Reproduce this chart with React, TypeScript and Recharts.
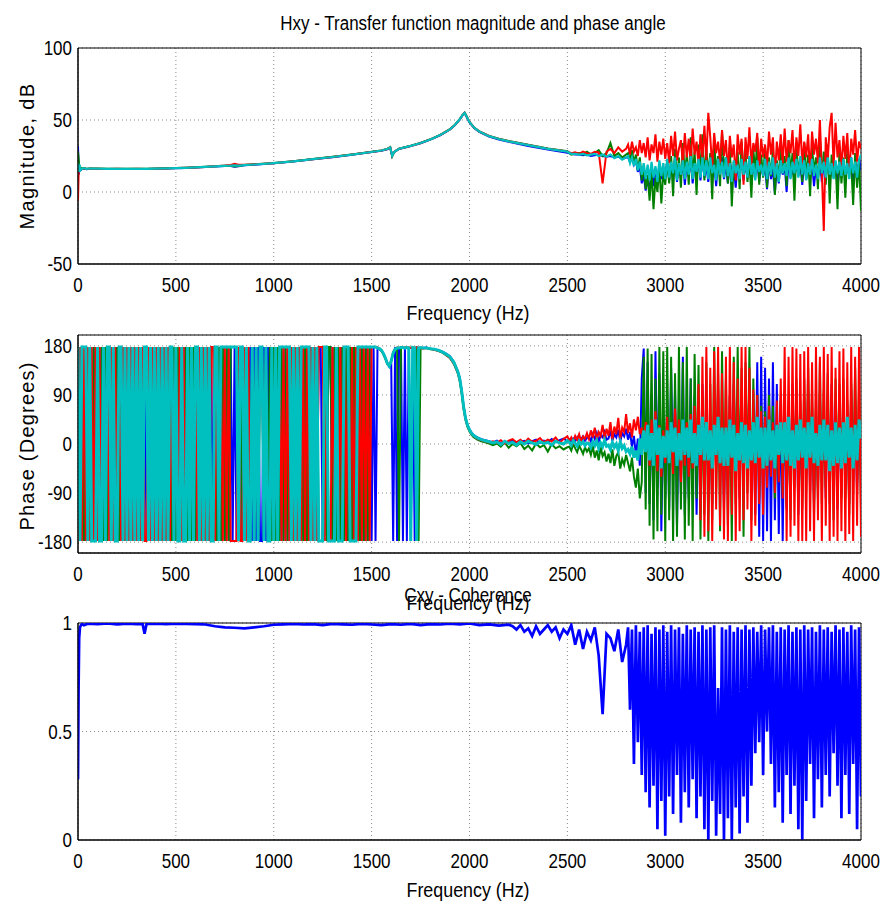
import React from "react";
import { LineChart, Line, XAxis, YAxis, CartesianGrid, ReferenceArea } from "recharts";

// sampling grid helper (frequencies only)
const steps = (from: number, to: number, by: number) => {
  const out: number[] = [];
  for (let f = from; f <= to + 1e-9; f += by) out.push(f);
  return out;
};

const freqTicks = [0, 500, 1000, 1500, 2000, 2500, 3000, 3500, 4000];
const magTicks = [-50, 0, 50, 100];
const phaseTicks = [-180, -90, 0, 90, 180];
const cohTicks = [0, 0.5, 1];

// ---------- magnitude (dB) ----------
const magFreqLow = [
  0, 4, 8, 12, 20, 30, 45, 60, 100, 150, 200, 250, 300, 350, 400, 450, 500, 550, 600, 650,
  700, 750, 780, 800, 820, 850, 900, 950, 1000, 1100, 1200, 1300, 1400, 1500, 1550, 1580, 1595, 1605, 1615, 1640,
  1700, 1750, 1800, 1850, 1900, 1925, 1950, 1965, 1975, 1985, 2000, 2025, 2050, 2100, 2150, 2200, 2300, 2400, 2500,
];
const magFreqMid = steps(2520, 2800, 20);
const magFreqHigh = steps(2810, 4000, 10);

const magBlueLow = [
  32, 12, 18, 15, 16, 16.3, 15.8, 16.2, 16, 15.9, 16, 15.9, 16, 15.9, 16.1, 16.3, 16.5, 16.7, 17, 17.3,
  17.7, 18, 18.1, 17.6, 17.9, 18.6, 19, 19.4, 19.9, 21.2, 22.7, 24.2, 25.9, 27.7, 28.7, 29.7, 30.8, 25.2, 27.7, 29.9,
  31.9, 33.9, 36.4, 39.4, 43.4, 46.4, 50.3, 53.3, 54.8, 52.3, 48.3, 44.3, 41.8, 38.5, 36.4, 34.8, 32, 29.5, 27.3,
];
const magGreenLow = [
  28, 22, 15, 17, 16.2, 16.6, 16.1, 16.4, 16.3, 16.1, 16.2, 16.1, 16.2, 16.1, 16.3, 16.5, 16.7, 16.9, 17.2, 17.5,
  17.9, 18.2, 18.3, 17.8, 18.1, 18.8, 19.2, 19.6, 20.1, 21.4, 22.9, 24.4, 26.1, 27.9, 28.9, 29.9, 31.2, 24.8, 27.9, 30.1,
  32.1, 34.1, 36.6, 39.6, 43.6, 46.6, 50.6, 53.6, 55.1, 52.6, 48.6, 44.6, 42.1, 39, 37, 35.4, 32.8, 30.3, 28.3,
];
const magRedLow = [
  -6, 18, 16, 16, 15.9, 16.4, 15.9, 16.2, 16.1, 16, 16.1, 16, 16.2, 16, 16.2, 16.4, 16.6, 16.9, 17.1, 17.4,
  17.9, 18.4, 18.8, 19.6, 19, 18.9, 19.2, 19.6, 20, 21.3, 22.8, 24.3, 26, 27.8, 28.8, 29.8, 31, 25, 27.8, 30,
  32, 34, 36.5, 39.5, 43.5, 46.5, 50.5, 53.5, 55, 52.5, 48.5, 44.5, 42, 38.9, 36.9, 35.3, 32.6, 30.1, 28.1,
];
const magCyanLow = [
  20, 14, 19, 15, 16.1, 16.5, 16, 16.3, 16.2, 16, 16.1, 16, 16.1, 16, 16.2, 16.4, 16.6, 16.8, 17.1, 17.4,
  17.8, 18.1, 18.3, 18.5, 18.3, 18.7, 19.1, 19.5, 20, 21.3, 22.8, 24.3, 26, 27.8, 28.8, 29.8, 31, 25, 27.8, 30,
  32, 34, 36.5, 39.5, 43.5, 46.5, 50.5, 53.5, 55, 52.5, 48.5, 44.5, 42, 38.8, 36.8, 35.2, 32.5, 30, 28,
];

const magBlueMid = [26.5, 26, 26, 25.5, 26, 25, 25.5, 26, 25, 24.5, 25, 24, 24.5, 23, 24];
const magGreenMid = [26, 26.5, 27, 26, 28, 26, 27, 29, 25, 27, 34, 25, 27, 24, 26];
const magRedMid = [27, 27.5, 26.5, 28, 27, 26.5, 28, 27.5, 6, 28, 30, 27, 31, 28, 30];
const magCyanMid = [26.5, 26.5, 26, 26.5, 25.5, 26, 26.5, 25, 26, 24.5, 26, 23.5, 25, 22.5, 24];

const magBlueHigh = [
  24, 21, 25, 19, 22, 14, 18, 6, 12, 1,
  8, 2, 14, 4, 16, 6, 20, 9, 17, 11,
  21, 8, 19, 12, 23, 7, 18, 10, 22, 5,
  20, 11, 24, 6, 19, 13, 22, 8, 25, 10,
  18, 7, 23, 12, 20, 4, 21, 14, 24, 9,
  19, 6, 22, 11, 18, 3, 20, 13, 23, 8,
  21, 10, 24, 5, 19, 12, 22, 7, 20, 11,
  18, 2, 21, 9, 16, -1, 20, 6, 23, 12,
  19, 0, 22, 10, 17, 8, 24, 11, 20, 5,
  23, 9, 19, 12, 21, 4, 18, 10, 22, 7,
  20, 11, 24, 6, 19, 13, 21, 3, 18, 10,
  22, 8, 19, 12, 24, 5, 20, 9, 23, 15,
];
const magGreenHigh = [
  27, 22, 29, 20, 26, 15, 24, 8, 18, 2,
  12, -6, 15, -12, 10, 0, 18, -8, 14, 5,
  22, 6, 25, -3, 30, 9, 24, 3, 34, 12,
  26, 5, 38, 10, 28, -2, 33, 14, 40, 8,
  30, 11, 27, -5, 36, 13, 25, 4, 42, 16,
  24, 6, 32, -10, 21, 9, 28, 2, 35, 14,
  27, 7, 23, -4, 30, 12, 38, 5, 26, 10,
  31, 3, 24, 11, 29, -2, 22, 8, 33, 13,
  25, 4, 36, 12, 27, -6, 30, 15, 23, 7,
  34, 9, 26, -3, 31, 14, 24, 2, 37, 11,
  28, 5, 33, -8, 26, 10, 21, -12, 30, 6,
  24, -4, 29, 12, 20, -9, 27, 3, 22, -13,
];
const magRedHigh = [
  33, 26, 35, 28, 31, 25, 36, 27, 34, 24,
  38, 22, 33, 27, 40, 21, 35, 26, 37, 23,
  34, 20, 39, 25, 42, 22, 30, 36, 19, 41,
  24, 37, 21, 44, 26, 35, 18, 40, 23, 46,
  22, 55, 38, 17, 41, 27, 35, 20, 43, 25,
  36, 12, 39, 24, 33, 8, 40, 26, 37, 5,
  38, 23, 45, 19, 34, 28, 41, 15, 37, 24,
  33, 18, 42, 26, 38, 10, 35, 22, 40, 20,
  44, 21, 36, 27, 43, 16, 38, 25, 47, 19,
  35, 24, 40, 12, 42, 26, 37, 20, 50, 14,
  -27, 38, 22, 45, 55, 18, 48, 24, 36, 15,
  39, 23, 41, 10, 37, 26, 43, 21, 35, 30,
];
const magCyanHigh = [
  25, 20, 24, 18, 23, 15, 21, 12, 20, 9,
  19, 8, 21, 10, 18, 7, 22, 11, 20, 9,
  23, 10, 21, 13, 24, 8, 20, 12, 22, 9,
  21, 12, 25, 9, 20, 14, 23, 10, 24, 11,
  22, 9, 24, 13, 19, 8, 23, 12, 21, 10,
  24, 11, 20, 7, 22, 13, 19, 9, 23, 12,
  21, 10, 25, 12, 20, 8, 22, 14, 19, 11,
  23, 9, 21, 12, 24, 10, 20, 7, 22, 13,
  20, 11, 24, 9, 21, 13, 23, 10, 25, 12,
  22, 8, 20, 12, 23, 11, 19, 9, 24, 13,
  21, 10, 24, 12, 20, 9, 22, 13, 21, 11,
  23, 12, 20, 9, 24, 13, 21, 10, 22, 26,
];

// ---------- phase (degrees) ----------
const U = 178;
const D = -178;
const phFreqWrap = steps(0, 1760, 10);
const phFreqTurn = [1780, 1800, 1820, 1840, 1860, 1880, 1900, 1920, 1940, 1950, 1960, 1970, 1980, 1990, 2000, 2010, 2020, 2040, 2060, 2080, 2100];
const phFreqFlat = steps(2120, 2500, 20);
const phFreqNoise = steps(2510, 4000, 10);

const phBlueWrap = [
  U, D, U, D, U, D, U, D, U, D,
  U, D, U, D, U, D, U, D, U, D,
  U, D, U, D, U, D, U, D, U, D,
  U, D, U, D, U, D, U, D, U, D,
  U, D, U, D, U, D, U, D, U, D,
  U, D, U, D, U, D, U, D, U, D,
  U, D, U, D, U, D, U, D, U, D,
  U, D, U, D, U, D, U, D, U, D,
  U, D, U, D, U, D, U, D, U, D,
  U, D, U, D, D, U, D, U, D, U,
  D, U, D, U, D, U, D, U, D, U,
  D, U, D, U, D, U, D, U, D, U,
  D, U, D, U, U, D, U, D, U, U,
  D, U, D, U, D, U, D, U, D, U,
  D, U, D, U, D, U, D, U, D, U,
  D, U, D, 176, 174, 171, 166, 158, 149, 142,
  150, D, U, D, 176, 177, D, U, D, U,
  D, U, D, 177, 176, 177, 176,
];
const phGreenWrap = [
  U, D, U, D, U, D, U, D, U, D,
  U, D, U, D, U, D, U, D, U, D,
  U, D, U, D, U, D, U, D, U, D,
  U, D, U, D, U, U, D, U, D, U,
  D, U, D, U, D, U, D, U, D, U,
  D, U, D, U, D, U, D, U, D, U,
  D, U, D, U, D, U, D, U, D, D,
  U, D, U, D, U, D, U, D, U, U,
  U, U, D, U, D, U, D, U, D, U,
  D, U, D, U, U, D, U, D, U, D,
  U, D, U, D, U, D, U, D, U, D,
  U, D, U, D, U, D, U, D, U, D,
  U, D, U, D, D, D, U, D, U, U,
  D, U, D, U, D, U, D, U, D, U,
  D, U, D, U, D, U, D, U, D, U,
  U, U, U, 176, 175, 172, 165, 157, 147, 143,
  151, 167, 174, 176, D, 177, 176, 177, 176, 177,
  176, 177, 176, 177, D, 176, 176,
];
const phRedWrap = [
  D, U, D, U, D, U, D, U, D, U,
  D, U, D, U, D, U, D, U, D, U,
  D, U, D, U, D, U, D, U, D, U,
  D, U, D, U, D, D, U, D, U, D,
  U, D, U, D, U, D, U, D, U, D,
  U, D, U, D, U, D, U, D, U, D,
  U, D, U, D, U, D, U, D, U, U,
  D, U, D, U, D, U, D, U, D, D,
  D, D, U, D, D, U, D, U, D, U,
  D, U, D, U, U, D, U, D, D, U,
  D, U, D, U, D, U, D, U, D, U,
  D, U, D, U, D, U, D, U, D, U,
  D, U, D, U, U, U, D, U, D, D,
  U, D, U, D, U, D, U, D, U, D,
  U, D, U, D, U, D, U, D, U, D,
  U, U, U, 177, 175, 171, 165, 157, 148, 144,
  153, 168, 175, 177, 176, 177, 176, 177, 176, 177,
  176, 177, 176, 177, 176, 176, 175,
];
const phCyanWrap = [
  U, D, U, U, U, D, U, D, D, D,
  U, D, D, U, D, U, U, D, U, D,
  D, U, U, D, U, D, U, D, U, D,
  U, D, U, D, U, U, D, U, D, U,
  D, U, D, U, D, U, D, U, U, D,
  U, D, D, U, D, D, U, D, U, D,
  U, U, D, U, D, U, D, U, D, D,
  U, U, D, U, U, U, U, U, U, U,
  U, U, D, U, U, D, U, D, D, U,
  D, U, D, U, U, D, U, D, D, U,
  D, U, D, U, U, U, U, U, U, D,
  U, D, U, D, U, U, U, U, U, D,
  U, D, U, D, D, D, U, U, D, D,
  D, D, U, D, D, D, U, U, U, D,
  D, D, D, U, U, U, U, U, U, U,
  U, U, U, 176, 175, 172, 166, 158, 148, 143,
  152, 167, 174, 176, 176, 177, 177, 176, 177, 176,
  D, 177, 176, D, 176, 177, 176,
];

const phBlueTurn = [177, 175, 174, 172, 170, 166, 161, 151, 134, 122, 99, 70, 48, 35, 27, 21, 17, 12, 9, 7, 5];
const phGreenTurn = [176, 174, 173, 171, 168, 163, 158, 147, 130, 116, 93, 64, 44, 31, 23, 17, 13, 8, 5, 3, 1];
const phRedTurn = [176, 175, 173, 171, 168, 164, 158, 148, 131, 118, 95, 66, 45, 33, 25, 19, 15, 10, 7, 5, 3];
const phCyanTurn = [176, 175, 174, 172, 169, 165, 160, 150, 133, 120, 97, 68, 47, 34, 26, 20, 16, 11, 8, 6, 4];

const phBlueFlat = [3, 6, 1, 5, 2, 7, 0, 4, 6, 1, 5, 8, 2, 6, 3, 9, 4, 7, 10, 5];
const phGreenFlat = [-2, 1, -5, 3, -7, 0, -4, 2, -9, -3, -12, 1, -6, -2, -14, 0, -8, -4, -10, -6];
const phRedFlat = [5, 2, 7, 1, 6, 9, 3, 8, 2, 10, 4, 6, 11, 3, 8, 5, 12, 2, 9, 14];
const phCyanFlat = [2, 4, -1, 5, 1, 3, -2, 4, 0, 5, 2, -1, 4, 1, 3, -2, 5, 2, 0, 6];

const phBlueNoise = [
  8, 2, 10, 5, 12, 3, 9, 14, 6, 11,
  14, 5, 18, 9, 20, 4, 16, 12, 22, 8,
  10, 24, 6, 18, 12, 26, 4, 20, 14, 28,
  8, 22, -5, 15, -20, 10, -40, 120, 175, -90,
  150, -110, 90, -140, 170, -80, 130, -160, 60, -100,
  80, -120, 140, -60, 100, -150, 70, -90, 160, -130,
  60, -100, 120, -70, 90, -130, 50, -80, 110, -60,
  70, -90, 40, -110, 80, -50, 100, -70, 60, -120,
  60, -80, 90, -40, 110, -70, 50, -100, 80, -60,
  70, -50, 110, -90, 60, -130, 150, -170, 160, -178,
  140, -160, 120, -178, 150, -140, 110, -165, 90, -178,
  100, -120, 70, -90, 110, -60, 80, -130, 50, -100,
  80, -60, 100, -90, 70, -110, 60, -80, 90, -70,
  60, -100, 90, -70, 110, -50, 80, -120, 70, -90,
  90, -80, 60, -110, 100, -70, 80, -90, 50, -60,
];
const phGreenNoise = [
  -5, -12, 0, -8, -15, -3, -10, -18, -6, -14,
  -8, -20, -4, -25, -12, -30, -6, -22, -15, -32,
  -18, -35, -10, -40, -22, -15, -45, -28, -38, -20,
  -35, -50, -25, -60, -80, -45, -100, -70, 160, -120,
  175, -150, 165, -175, 120, -160, 178, -130, 170, -178,
  178, -140, 160, -178, 130, -170, 178, -120, 150, -175,
  178, -150, 120, -178, 165, -100, 145, -175, 90, -130,
  150, -178, 110, -140, 178, -90, 130, -160, 170, -100,
  120, -150, 90, -178, 160, -110, 178, -80, 140, -170,
  150, -90, 178, -140, 120, -60, 90, -100, 70, -80,
  60, -70, 90, -50, 70, -100, 40, -60, 80, -90,
  90, -110, 60, -140, 100, -80, 120, -70, 80, -120,
  120, -90, 140, -60, 100, -130, 80, -100, 150, -110,
  100, -80, 130, -110, 90, -140, 120, -70, 110, -100,
  120, -100, 80, -130, 110, -90, 140, -70, 100, -120,
];
const phRedNoise = [
  6, 12, 3, 15, 8, 18, 4, 14, 10, 20,
  9, 25, 12, 30, 7, 22, 15, 35, 10, 28,
  15, 40, 8, 32, 18, 48, 10, 30, 22, 55,
  20, 38, 12, 45, 25, 50, 18, 30, 5, 40,
  30, -40, 45, -25, 60, -50, 35, -60, 25, -35,
  50, -30, 40, -55, 65, -20, 45, -70, 30, -40,
  40, -60, 55, -45, 70, -35, 110, -140, 160, -170,
  178, -160, 140, -178, 170, -120, 178, -150, 130, -175,
  160, -178, 178, -130, 150, -178, 120, -160, 178, -140,
  178, -120, 140, -178, 100, -150, 90, -110, 60, -130,
  50, -80, 70, -60, 40, -90, 80, -70, 120, -100,
  178, -178, 160, -170, 178, -150, 175, -178, 165, -178,
  170, -178, 178, -160, 150, -178, 178, -140, 160, -178,
  178, -150, 165, -178, 178, -170, 140, -178, 170, -160,
  175, -178, 150, -165, 178, -178, 160, -150, 178, -170,
];
const phCyanNoise = [
  3, -2, 6, 1, -4, 5, 0, 4, -3, 2,
  1, -6, 4, -3, 6, -8, 2, -5, 7, -4,
  -2, -10, 3, -6, 0, -12, 4, -8, -3, -14,
  -10, -18, -5, -25, -12, -30, 10, -20, 25, -15,
  35, -30, 20, -40, 45, -20, 30, -45, 15, -25,
  25, -35, 40, -15, 30, -40, 20, -30, 45, -20,
  30, -25, 45, -35, 20, -40, 35, -20, 50, -30,
  40, -30, 25, -45, 35, -20, 50, -35, 30, -40,
  30, -40, 45, -25, 35, -50, 20, -30, 40, -35,
  35, -45, 25, -30, 40, -35, 50, -25, 30, -45,
  30, -40, 45, -30, 25, -45, 35, -20, 40, -35,
  40, -30, 50, -40, 25, -45, 35, -30, 45, -25,
  30, -45, 40, -25, 50, -35, 20, -40, 35, -30,
  45, -30, 35, -50, 25, -40, 40, -35, 30, -45,
  40, -35, 50, -25, 30, -45, 35, -30, 45, 10,
];

// ---------- coherence ----------
const cohFreqLow = [
  0, 3, 6, 10, 15, 20, 30, 50, 100, 150, 200, 250, 300, 330, 340, 350, 400, 450, 500, 550,
  600, 650, 700, 750, 800, 850, 900, 950, 1000, 1050, 1100, 1150, 1200, 1250, 1300, 1350, 1400, 1450, 1500, 1550,
  1600, 1650, 1700, 1750, 1800, 1850, 1900, 1950, 2000, 2050, 2100, 2150, 2200,
];
const cohFreqMid = steps(2220, 2800, 20);
const cohFreqHigh = steps(2810, 4000, 10);
const cohLow = [
  0.28, 0.7, 0.93, 0.98, 0.99, 0.995, 0.99, 0.997, 0.995, 0.998, 0.994, 0.997, 0.995, 0.996, 0.95, 0.996, 0.997, 0.995, 0.997, 0.996,
  0.995, 0.993, 0.985, 0.98, 0.978, 0.975, 0.98, 0.985, 0.992, 0.994, 0.996, 0.993, 0.995, 0.99, 0.996, 0.994, 0.992, 0.996, 0.993, 0.99,
  0.995, 0.992, 0.996, 0.99, 0.995, 0.993, 0.997, 0.994, 0.998, 0.99, 0.994, 0.988, 0.992,
];
const cohMid = [
  0.985, 0.97, 0.99, 0.96, 0.975, 0.94, 0.985, 0.95, 0.97, 0.99,
  0.96, 0.98, 0.93, 0.97, 0.95, 0.99, 0.9, 0.97, 0.88, 0.96,
  0.92, 0.98, 0.85, 0.58, 0.95, 0.93, 0.87, 0.97, 0.82, 0.9,
];
const cohHigh = [
  0.98, 0.6, 0.97, 0.35, 0.99, 0.45, 0.96, 0.3, 0.98, 0.22,
  0.99, 0.15, 0.95, 0.25, 0.98, 0.05, 0.97, 0.18, 0.99, 0.02,
  0.96, 0.2, 0.99, 0.12, 0.97, 0.3, 0.98, 0.08, 0.95, 0.22,
  0.99, 0.15, 0.97, 0.28, 0.98, 0.1, 0.96, 0.2, 0.99, 0.05,
  0.97, 0.0, 0.98, 0.18, 0.99, 0.02, 0.7, 0.12, 0.98, 0.0,
  0.97, 0.1, 0.99, 0.0, 0.96, 0.15, 0.98, 0.03, 0.97, 0.2,
  0.99, 0.08, 0.97, 0.25, 0.98, 0.4, 0.96, 0.45, 0.99, 0.3,
  0.97, 0.5, 0.98, 0.35, 0.99, 0.15, 0.96, 0.22, 0.98, 0.08,
  0.97, 0.3, 0.99, 0.12, 0.96, 0.25, 0.98, 0.05, 0.97, 0.0,
  0.99, 0.18, 0.97, 0.35, 0.98, 0.1, 0.96, 0.28, 0.99, 0.15,
  0.97, 0.3, 0.98, 0.2, 0.96, 0.4, 0.99, 0.25, 0.97, 0.1,
  0.98, 0.3, 0.96, 0.12, 0.99, 0.35, 0.97, 0.05, 0.98, 0.2,
];

// ---------- tables ----------
const rows4 = (f: number[], b: number[], g: number[], r: number[], c: number[]) =>
  f.map((x, i) => ({ f: x, b: b[i], g: g[i], r: r[i], c: c[i] }));

const magData = rows4(
  [...magFreqLow, ...magFreqMid, ...magFreqHigh],
  [...magBlueLow, ...magBlueMid, ...magBlueHigh],
  [...magGreenLow, ...magGreenMid, ...magGreenHigh],
  [...magRedLow, ...magRedMid, ...magRedHigh],
  [...magCyanLow, ...magCyanMid, ...magCyanHigh]
);
const phaseData = rows4(
  [...phFreqWrap, ...phFreqTurn, ...phFreqFlat, ...phFreqNoise],
  [...phBlueWrap, ...phBlueTurn, ...phBlueFlat, ...phBlueNoise],
  [...phGreenWrap, ...phGreenTurn, ...phGreenFlat, ...phGreenNoise],
  [...phRedWrap, ...phRedTurn, ...phRedFlat, ...phRedNoise],
  [...phCyanWrap, ...phCyanTurn, ...phCyanFlat, ...phCyanNoise]
);
const cohValues = [...cohLow, ...cohMid, ...cohHigh];
const cohData = [...cohFreqLow, ...cohFreqMid, ...cohFreqHigh].map((x, i) => ({ f: x, b: cohValues[i] }));

type Series = { key: string; color: string; width: number };
const MAG_SERIES: Series[] = [
  { key: "b", color: "#0000ff", width: 2 },
  { key: "g", color: "#008000", width: 2 },
  { key: "r", color: "#ff0000", width: 2 },
  { key: "c", color: "#00bfbf", width: 2.2 },
];
const PHASE_SERIES: Series[] = [
  { key: "b", color: "#0000ff", width: 2 },
  { key: "g", color: "#008000", width: 2 },
  { key: "r", color: "#ff0000", width: 2 },
  { key: "c", color: "#00bfbf", width: 3 },
];
const COH_SERIES: Series[] = [{ key: "b", color: "#0000ff", width: 2.7 }];

const FONT = "'Liberation Sans', Arial, sans-serif";
const SQUEEZE = 0.85; // the original figure's lettering is condensed

// condensed tick labels, like the MATLAB export
const XTick = (props: any) => {
  const { x, y, payload } = props;
  return (
    <text transform={`translate(${x},${y}) scale(${SQUEEZE},1)`} textAnchor="middle" dy="0.71em" fontSize={20} fontFamily={FONT} fill="#000">
      {String(payload.value)}
    </text>
  );
};
const YTick = (props: any) => {
  const { x, y, payload } = props;
  return (
    <text transform={`translate(${x},${y}) scale(${SQUEEZE},1)`} textAnchor="end" dy="0.355em" fontSize={20} fontFamily={FONT} fill="#000">
      {String(payload.value)}
    </text>
  );
};

type PanelProps = {
  top: number;
  height: number;
  plotTop: number;
  plotHeight: number;
  data: any[];
  yDomain: [number, number];
  yTicks: number[];
  series: Series[];
};

function Panel({ top, height, plotTop, plotHeight, data, yDomain, yTicks, series }: PanelProps) {
  const bottom = height - plotTop - plotHeight - 30;
  return (
    <div style={{ position: "absolute", left: 0, top }}>
      <LineChart width={886} height={height} data={data} margin={{ top: plotTop, right: 25, bottom, left: 18 }}>
        <CartesianGrid stroke="#8a8a8a" strokeDasharray="1 3" />
        <XAxis
          type="number"
          dataKey="f"
          domain={[0, 4000]}
          ticks={freqTicks}
          interval={0}
          height={30}
          tickLine={false}
          tickMargin={8}
          axisLine={{ stroke: "#000" }}
          tick={<XTick />}
          allowDataOverflow
        />
        <YAxis
          type="number"
          domain={yDomain}
          ticks={yTicks}
          interval={0}
          width={60}
          tickLine={false}
          tickMargin={0}
          axisLine={{ stroke: "#000" }}
          tick={<YTick />}
          allowDataOverflow
        />
        {series.map((s) => (
          <Line
            key={s.key}
            type="linear"
            dataKey={s.key}
            stroke={s.color}
            strokeWidth={s.width}
            dot={false}
            activeDot={false}
            isAnimationActive={false}
          />
        ))}
        <ReferenceArea x1={0} x2={4000} y1={yDomain[0]} y2={yDomain[1]} fill="none" stroke="#000" strokeWidth={1} />
      </LineChart>
    </div>
  );
}

const label = (text: string, x: number, y: number, extra: React.CSSProperties = {}) => (
  <div
    style={{
      position: "absolute",
      left: x,
      top: y,
      transform: `translate(-50%, -50%) scaleX(${SQUEEZE})`,
      whiteSpace: "nowrap",
      fontFamily: FONT,
      fontSize: 21,
      lineHeight: 1,
      color: "#000",
      ...extra,
    }}
  >
    {text}
  </div>
);

export default function App() {
  return (
    <div style={{ position: "absolute", left: 0, top: 0, width: 886, height: 905, background: "#fff", overflow: "hidden" }}>
      <Panel top={0} height={330} plotTop={48} plotHeight={216} data={magData} yDomain={[-50, 100]} yTicks={magTicks} series={MAG_SERIES} />
      <Panel top={300} height={320} plotTop={35} plotHeight={218} data={phaseData} yDomain={[-200, 200]} yTicks={phaseTicks} series={PHASE_SERIES} />
      <Panel top={590} height={315} plotTop={33} plotHeight={217} data={cohData} yDomain={[0, 1]} yTicks={cohTicks} series={COH_SERIES} />

      {label("Hxy - Transfer function magnitude and phase angle", 473, 23, { fontSize: 20 })}
      {label("Frequency (Hz)", 468, 312)}
      {label("Cxy - Coherence", 468, 595, { fontSize: 20 })}
      {label("Frequency (Hz)", 468, 602)}
      {label("Frequency (Hz)", 468, 889)}
      {label("Magnitude, dB", 27, 156, {
        fontSize: 20,
        letterSpacing: 1.4,
        transform: "translate(-50%, -50%) rotate(-90deg)",
      })}
      {label("Phase (Degrees)", 27, 446, {
        fontSize: 20,
        letterSpacing: 1.2,
        transform: "translate(-50%, -50%) rotate(-90deg)",
      })}
    </div>
  );
}
